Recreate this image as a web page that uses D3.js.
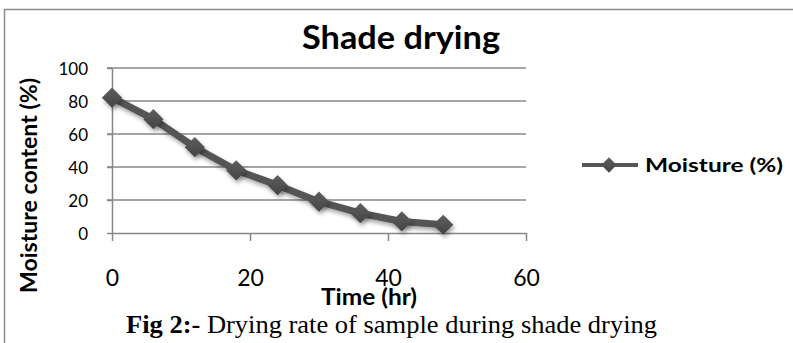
<!DOCTYPE html>
<html><head><meta charset="utf-8">
<script src="https://cdn.jsdelivr.net/npm/d3@7"></script>
<style>
html,body{margin:0;padding:0;background:#fff;}
svg{display:block;}
</style></head>
<body>
<svg id="c" width="793" height="343"></svg>
<script>
const timeHr = [0, 6, 12, 18, 24, 30, 36, 42, 48];
const moisture = [82, 69, 52, 38, 29, 19, 12, 7, 5];
const xTicks = [0, 20, 40, 60];
const yTicks = [0, 20, 40, 60, 80, 100];
const titleText = "Shade drying";
const xTitle = "Time (hr)";
const yTitle = "Moisture content (%)";
const legendLabel = "Moisture (%)";
const captionBold = "Fig 2:-";
const captionRest = " Drying rate of sample during shade drying";

const svg = d3.select("#c");
const sans = "Lato, 'Open Sans', sans-serif";
const grid = "#878787";
const lineCol = "#555555";

const x = d3.scaleLinear().domain([0, 60]).range([112, 526]);
const y = d3.scaleLinear().domain([0, 100]).range([233, 68]);

// outer border
svg.append("path").attr("d", "M4.5,343 V9.5 H793")
  .attr("fill", "none").attr("stroke", "#8c8c8c").attr("stroke-width", 1.5);

const defs = svg.append("defs");
const f = defs.append("filter").attr("id", "sh").attr("x", "-50%").attr("y", "-50%").attr("width", "200%").attr("height", "200%");
f.append("feDropShadow").attr("dx", 1.5).attr("dy", 3).attr("stdDeviation", 2)
  .attr("flood-color", "#000").attr("flood-opacity", 0.35);
const g = defs.append("linearGradient").attr("id", "mk").attr("x1", 0).attr("y1", 0).attr("x2", 0).attr("y2", 1);
g.append("stop").attr("offset", "0%").attr("stop-color", "#5e5e5e");
g.append("stop").attr("offset", "100%").attr("stop-color", "#444");

// gridlines
svg.append("g").selectAll("line").data(yTicks.filter(d => d > 0)).join("line")
  .attr("x1", x(0) - 5).attr("x2", x(60))
  .attr("y1", d => y(d)).attr("y2", d => y(d))
  .attr("stroke", grid).attr("stroke-width", 1.5);

// y axis
const yAxis = svg.append("g").attr("transform", `translate(${x(0)},0)`)
  .call(d3.axisLeft(y).tickValues(yTicks).tickSize(5).tickPadding(19).tickSizeOuter(0));
yAxis.select(".domain").attr("stroke", grid).attr("stroke-width", 1.5);
yAxis.selectAll(".tick line").attr("stroke", grid).attr("stroke-width", 1.5);
yAxis.selectAll(".tick text").attr("font-family", sans).attr("font-size", 17).attr("fill", "#000")
  .attr("dy", "0.36em");

// x axis
const xAxis = svg.append("g").attr("transform", `translate(0,${y(0)})`)
  .call(d3.axisBottom(x).tickValues(xTicks).tickSize(8).tickSizeOuter(0).tickPadding(0));
xAxis.select(".domain").attr("stroke", grid).attr("stroke-width", 1.5);
xAxis.selectAll(".tick line").attr("stroke", grid).attr("stroke-width", 1.5);
xAxis.selectAll(".tick text").attr("font-family", sans).attr("font-size", 23).attr("fill", "#000")
  .attr("dy", 0).attr("y", 53);

// series line
const pts = timeHr.map((t, i) => [t, moisture[i]]);
svg.append("path").datum(pts)
  .attr("d", d3.line().x(d => x(d[0])).y(d => y(d[1])))
  .attr("fill", "none").attr("stroke", lineCol).attr("stroke-width", 7)
  .attr("stroke-linejoin", "round").attr("filter", "url(#sh)");

const diamond = d3.symbol().type(d3.symbolDiamond2).size(260);
svg.append("g").selectAll("path").data(pts).join("path")
  .attr("d", diamond)
  .attr("transform", d => `translate(${x(d[0])},${y(d[1])})`)
  .attr("fill", "url(#mk)").attr("filter", "url(#sh)");

// title
svg.append("text").attr("x", 302).attr("y", 49).text(titleText)
  .attr("font-family", sans).attr("font-weight", "bold").attr("font-size", 31.5)
  .attr("textLength", 198).attr("lengthAdjust", "spacingAndGlyphs");

// x title
svg.append("text").attr("x", 321).attr("y", 305).text(xTitle)
  .attr("font-family", sans).attr("font-weight", "bold").attr("font-size", 23)
  .attr("textLength", 96).attr("lengthAdjust", "spacingAndGlyphs");

// y title
svg.append("text").attr("transform", "translate(37,293) rotate(-90)").text(yTitle)
  .attr("font-family", sans).attr("font-weight", "bold").attr("font-size", 22)
  .attr("textLength", 215).attr("lengthAdjust", "spacingAndGlyphs");

// legend
svg.append("line").attr("x1", 582).attr("x2", 638).attr("y1", 165).attr("y2", 165)
  .attr("stroke", lineCol).attr("stroke-width", 4);
svg.append("path").attr("d", d3.symbol().type(d3.symbolDiamond2).size(150))
  .attr("transform", "translate(609,165)").attr("fill", "url(#mk)");
svg.append("text").attr("x", 645).attr("y", 172).text(legendLabel)
  .attr("font-family", sans).attr("font-weight", "bold").attr("font-size", 19.5)
  .attr("textLength", 138).attr("lengthAdjust", "spacingAndGlyphs");

// caption
const cap = svg.append("text").attr("x", 126).attr("y", 333)
  .attr("font-family", "'Liberation Serif', 'Times New Roman', serif").attr("font-size", 24.5)
  .attr("textLength", 531).attr("lengthAdjust", "spacingAndGlyphs");
cap.append("tspan").attr("font-weight", "bold").text(captionBold);
cap.append("tspan").text(captionRest);
</script>
</body></html>
